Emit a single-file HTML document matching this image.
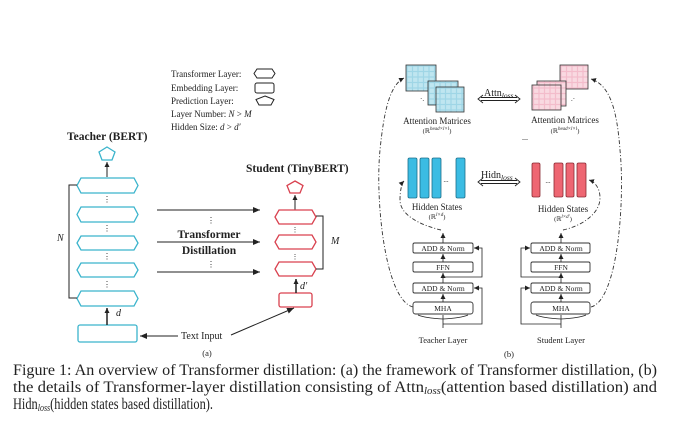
<!DOCTYPE html>
<html><head><meta charset="utf-8"><style>
html,body{margin:0;padding:0;background:#fff;}
svg{display:block;}
text{font-family:"Liberation Serif",serif;fill:#222;}
</style></head><body>
<svg width="699" height="438" viewBox="0 0 699 438" xmlns="http://www.w3.org/2000/svg">
<defs>
<marker id="ar" markerWidth="8" markerHeight="8" refX="7" refY="4" orient="auto" markerUnits="userSpaceOnUse"><path d="M0,1 L7,4 L0,7 z" fill="#222"/></marker>
<marker id="as" markerWidth="6" markerHeight="6" refX="5" refY="3" orient="auto" markerUnits="userSpaceOnUse"><path d="M0,0.5 L5,3 L0,5.5 z" fill="#222"/></marker>
<pattern id="pb" width="5.5" height="5.5" patternUnits="userSpaceOnUse"><rect width="5.5" height="5.5" fill="#9fd6e6"/><rect x="0.6" y="0.6" width="4.3" height="4.3" fill="#bfe6f0"/></pattern>
<pattern id="pr" width="5.5" height="5.5" patternUnits="userSpaceOnUse"><rect width="5.5" height="5.5" fill="#f3bccb"/><rect x="0.6" y="0.6" width="4.3" height="4.3" fill="#f9d9e1"/></pattern>
</defs>

<!-- Legend -->
<g font-size="9">
<text x="171" y="77">Transformer Layer:</text>
<text x="171" y="91">Embedding Layer:</text>
<text x="171" y="104">Prediction Layer:</text>
<text x="171" y="117">Layer Number: <tspan font-style="italic">N</tspan> &gt; <tspan font-style="italic">M</tspan></text>
<text x="171" y="130">Hidden Size: <tspan font-style="italic">d</tspan> &gt; <tspan font-style="italic">d′</tspan></text>
</g>
<path d="M257,69 L272,69 L275,73.5 L272,78 L257,78 L254,73.5 Z" fill="none" stroke="#222" stroke-width="1"/>
<rect x="255" y="83" width="19" height="10" rx="2" fill="none" stroke="#222" stroke-width="1"/>
<path d="M265,96 L274,99.5 L271,105 L259,105 L256,99.5 Z" fill="none" stroke="#222" stroke-width="1"/>

<!-- Teacher -->
<text x="67" y="140" font-size="11.5" font-weight="bold">Teacher (BERT)</text>
<path d="M107,147 L115,152 L112,160 L102,160 L99,152 Z" fill="none" stroke="#3bb4cc" stroke-width="1.3"/>
<line x1="107" y1="177" x2="107" y2="162" stroke="#222" marker-end="url(#as)"/>
<g fill="none" stroke="#3bb4cc" stroke-width="1.3">
<path d="M81,178 L134,178 L138,185.5 L134,193 L81,193 L77,185.5 Z"/>
<path d="M81,207 L134,207 L138,214.5 L134,222 L81,222 L77,214.5 Z"/>
<path d="M81,236 L134,236 L138,243 L134,250 L81,250 L77,243 Z"/>
<path d="M81,263 L134,263 L138,270 L134,277 L81,277 L77,270 Z"/>
<path d="M81,291 L134,291 L138,298.5 L134,306 L81,306 L77,298.5 Z"/>
<rect x="78" y="325" width="59" height="17" rx="2"/>
</g>
<g font-size="8" text-anchor="middle"><text x="107" y="202">⋮</text><text x="107" y="231">⋮</text><text x="107" y="259">⋮</text><text x="107" y="287">⋮</text></g>
<path d="M77,185 L69,185 L69,298 L77,298" fill="none" stroke="#222" stroke-width="1"/>
<text x="57" y="241" font-size="10" font-style="italic">N</text>
<line x1="107" y1="325" x2="107" y2="308" stroke="#222" stroke-width="1.5" marker-end="url(#as)"/>
<text x="116" y="316" font-size="10" font-style="italic">d</text>

<!-- arrows middle -->
<g stroke="#222" stroke-width="1">
<line x1="157" y1="210" x2="260" y2="210" marker-end="url(#ar)"/>
<line x1="157" y1="242" x2="260" y2="242" marker-end="url(#ar)"/>
<line x1="157" y1="272" x2="260" y2="272" marker-end="url(#ar)"/>
</g>
<g font-size="8" text-anchor="middle"><text x="211" y="223">⋮</text><text x="211" y="267">⋮</text></g>
<text x="209" y="238" font-size="11.5" font-weight="bold" text-anchor="middle">Transformer</text>
<text x="209" y="254" font-size="11.5" font-weight="bold" text-anchor="middle">Distillation</text>

<!-- Student -->
<text x="246" y="172" font-size="11.5" font-weight="bold">Student (TinyBERT)</text>
<path d="M295,181 L303,185.5 L300,193 L290,193 L287,185.5 Z" fill="none" stroke="#d9414f" stroke-width="1.3"/>
<line x1="295" y1="210" x2="295" y2="195" stroke="#222" marker-end="url(#as)"/>
<g fill="none" stroke="#d9414f" stroke-width="1.3">
<path d="M279,210 L312,210 L316,217 L312,224 L279,224 L275,217 Z"/>
<path d="M279,235 L312,235 L316,242 L312,249 L279,249 L275,242 Z"/>
<path d="M279,262 L312,262 L316,269 L312,276 L279,276 L275,269 Z"/>
<rect x="279" y="293" width="33" height="14" rx="2"/>
</g>
<g font-size="7" text-anchor="middle"><text x="295" y="232">⋮</text><text x="295" y="259">⋮</text></g>
<path d="M316,216 L323,216 L323,269 L316,269" fill="none" stroke="#222" stroke-width="1"/>
<text x="331" y="244" font-size="10" font-style="italic">M</text>
<line x1="296" y1="293" x2="296" y2="279" stroke="#222" stroke-width="1.5" marker-end="url(#as)"/>
<text x="300" y="289" font-size="10" font-style="italic">d′</text>

<text x="181" y="339" font-size="10">Text Input</text>
<line x1="178" y1="336" x2="140" y2="336" stroke="#222" marker-end="url(#ar)"/>
<line x1="231" y1="335" x2="294" y2="308" stroke="#222" marker-end="url(#ar)"/>
<text x="207" y="356" font-size="8.5" text-anchor="middle">(a)</text>

<!-- Right panel: attention matrices -->
<g stroke="#333" stroke-width="0.8">
<rect x="406" y="65" width="30" height="26" fill="url(#pb)"/>
<rect x="428" y="81" width="30" height="24" fill="url(#pb)"/>
<rect x="436" y="87" width="28" height="25" fill="url(#pb)"/>
<rect x="560" y="65" width="28" height="24" fill="url(#pr)"/>
<rect x="537" y="81" width="29" height="25" fill="url(#pr)"/>
<rect x="532" y="85" width="29" height="25" fill="url(#pr)"/>
</g>
<text x="420" y="101" font-size="7">·.</text>
<text x="571" y="101" font-size="7">.·</text>
<text x="437" y="124" font-size="9" text-anchor="middle">Attention Matrices</text>
<text x="437" y="133" font-size="6.5" text-anchor="middle">(ℝ<tspan font-style="italic" font-size="5" dy="-3">head×l×l</tspan><tspan dy="3">)</tspan></text>
<text x="565" y="123" font-size="9" text-anchor="middle">Attention Matrices</text>
<text x="565" y="133" font-size="6.5" text-anchor="middle">(ℝ<tspan font-style="italic" font-size="5" dy="-3">head×l×l</tspan><tspan dy="3">)</tspan></text>
<text x="525" y="140" font-size="8" text-anchor="middle">...</text>

<text x="484" y="96" font-size="10">Attn<tspan font-size="7.5" font-style="italic" dy="2">loss</tspan></text>
<g fill="none" stroke="#222" stroke-width="0.9">
<path d="M481,97.5 L517,97.5 M481,100.5 L517,100.5 M483,95 L478,99 L483,103 M515,95 L520,99 L515,103"/>
<path d="M481,180.5 L517,180.5 M481,183.5 L517,183.5 M483,178 L478,182 L483,186 M515,178 L520,182 L515,186"/>
</g>
<text x="481" y="178" font-size="10">Hidn<tspan font-size="7.5" font-style="italic" dy="2">loss</tspan></text>

<!-- Hidden states -->
<g fill="#3bbce3" stroke="#1d6f8a" stroke-width="0.8">
<rect x="408" y="158" width="9" height="40" rx="1.5"/>
<rect x="420" y="158" width="9" height="40" rx="1.5"/>
<rect x="432" y="158" width="9" height="40" rx="1.5"/>
<rect x="456" y="158" width="9" height="40" rx="1.5"/>
</g>
<text x="446" y="182" font-size="7" text-anchor="middle">...</text>
<g fill="#ee6672" stroke="#8a2a33" stroke-width="0.8">
<rect x="532" y="163" width="8" height="34" rx="1.5"/>
<rect x="554" y="163" width="9" height="34" rx="1.5"/>
<rect x="566" y="163" width="8" height="34" rx="1.5"/>
<rect x="577" y="163" width="9" height="34" rx="1.5"/>
</g>
<text x="548" y="183" font-size="7" text-anchor="middle">...</text>
<text x="437" y="210" font-size="9" text-anchor="middle">Hidden States</text>
<text x="437" y="219" font-size="6.5" text-anchor="middle">(ℝ<tspan font-style="italic" font-size="5" dy="-3">l×d</tspan><tspan dy="3">)</tspan></text>
<text x="563" y="212" font-size="9" text-anchor="middle">Hidden States</text>
<text x="563" y="221" font-size="6.5" text-anchor="middle">(ℝ<tspan font-style="italic" font-size="5" dy="-3">l×d′</tspan><tspan dy="3">)</tspan></text>

<!-- Layer blocks -->
<g font-size="7.5" text-anchor="middle">
<g fill="none" stroke="#333" stroke-width="0.9">
<rect x="413" y="243" width="60" height="10" rx="1.5"/><rect x="413" y="262" width="60" height="10" rx="1.5"/>
<rect x="413" y="283" width="60" height="10" rx="1.5"/><rect x="413" y="302" width="60" height="12" rx="2.5"/>
<rect x="531" y="243" width="59" height="10" rx="1.5"/><rect x="531" y="262" width="59" height="10" rx="1.5"/>
<rect x="531" y="283" width="59" height="10" rx="1.5"/><rect x="531" y="302" width="59" height="12" rx="2.5"/>
</g>
<text x="443" y="251">ADD &amp; Norm</text><text x="443" y="270">FFN</text><text x="443" y="291">ADD &amp; Norm</text><text x="443" y="311">MHA</text>
<text x="561" y="251">ADD &amp; Norm</text><text x="561" y="270">FFN</text><text x="561" y="291">ADD &amp; Norm</text><text x="561" y="311">MHA</text>
</g>
<g stroke="#222" stroke-width="0.8" fill="none">
<line x1="443" y1="243" x2="443" y2="233" marker-end="url(#as)"/>
<line x1="443" y1="262" x2="443" y2="254" marker-end="url(#as)"/>
<line x1="443" y1="283" x2="443" y2="273" marker-end="url(#as)"/>
<line x1="443" y1="302" x2="443" y2="294" marker-end="url(#as)"/>
<line x1="443" y1="328" x2="443" y2="315"/>
<path d="M443,277 L482,277 L482,248 L474,248" marker-end="url(#as)"/>
<path d="M443,324 L482,324 L482,288 L474,288" marker-end="url(#as)"/>
<path d="M443,319 Q425,318 418,315 M443,319 Q461,318 468,315"/>
<line x1="561" y1="243" x2="561" y2="233" marker-end="url(#as)"/>
<line x1="561" y1="262" x2="561" y2="254" marker-end="url(#as)"/>
<line x1="561" y1="283" x2="561" y2="273" marker-end="url(#as)"/>
<line x1="561" y1="302" x2="561" y2="294" marker-end="url(#as)"/>
<line x1="561" y1="328" x2="561" y2="315"/>
<path d="M561,277 L521,277 L521,248 L530,248" marker-end="url(#as)"/>
<path d="M561,324 L521,324 L521,288 L530,288" marker-end="url(#as)"/>
<path d="M561,319 Q543,318 536,315 M561,319 Q579,318 586,315"/>
</g>
<text x="443" y="343" font-size="8.5" text-anchor="middle">Teacher Layer</text>
<text x="561" y="343" font-size="8.5" text-anchor="middle">Student Layer</text>
<text x="509" y="357" font-size="8.5" text-anchor="middle">(b)</text>

<!-- dash-dot curves -->
<g fill="none" stroke="#333" stroke-width="0.9" stroke-dasharray="4,2,1,2">
<path d="M413,307 C385,300 375,200 380,150 C384,110 390,85 404,78" marker-end="url(#as)"/>
<path d="M441,230 C420,225 400,215 400,200 C400,190 402,183 404,181" marker-end="url(#as)"/>
<path d="M591,307 C618,300 625,200 620,150 C617,110 610,85 591,79" marker-end="url(#as)"/>
<path d="M563,230 C585,225 600,212 600,198 C600,188 595,182 589,180" marker-end="url(#as)"/>
</g>

<!-- caption -->
<g font-size="15.5">
<text x="13" y="375" textLength="644" lengthAdjust="spacingAndGlyphs">Figure 1: An overview of Transformer distillation: (a) the framework of Transformer distillation, (b)</text>
<text x="13" y="392" textLength="644" lengthAdjust="spacingAndGlyphs">the details of Transformer-layer distillation consisting of Attn<tspan font-size="10" font-style="italic" dy="2">loss</tspan><tspan dy="-2">(attention based distillation) and</tspan></text>
<text x="13" y="409" textLength="200" lengthAdjust="spacingAndGlyphs">Hidn<tspan font-size="10" font-style="italic" dy="2">loss</tspan><tspan dy="-2">(hidden states based distillation).</tspan></text>
</g>
</svg>
</body></html>
